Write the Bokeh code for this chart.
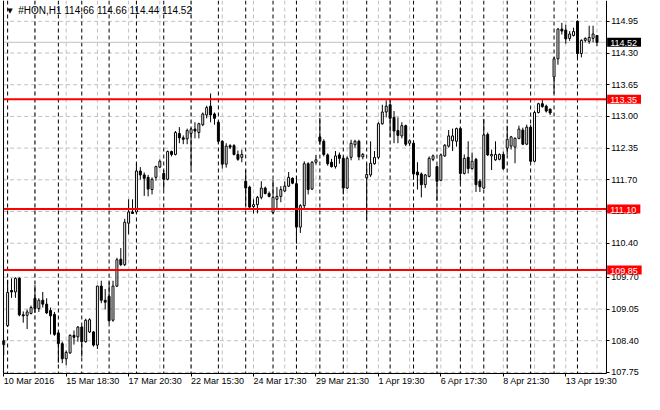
from bokeh.plotting import figure
from bokeh.models import (Range1d, FixedTicker, LinearAxis, Label,
                          PrintfTickFormatter, ColumnDataSource)
from bokeh.embed import file_html
from bokeh.resources import INLINE

# ---- data (HON, H1) ----
opens = [108.32, 108.71, 109.43, 109.40, 109.68, 108.93, 108.92, 108.96, 109.27, 109.06,
         109.23, 109.15, 109.02, 108.94, 108.56, 108.34, 108.03, 108.15, 108.51, 108.48,
         108.68, 108.38, 108.58, 108.58, 108.31, 109.52, 109.23, 109.31, 108.82, 109.52,
         110.07, 109.96, 110.81, 111.04, 111.04, 111.88, 111.80, 111.75, 111.50, 111.75,
         111.96, 111.83, 111.71, 112.28, 112.22, 112.65, 112.56, 112.54, 112.65, 112.74,
         112.67, 112.83, 113.03, 113.21, 113.05, 112.88, 112.49, 112.02, 112.40, 112.40,
         112.22, 112.16, 111.67, 111.55, 111.15, 111.19, 111.34, 111.53, 111.42, 111.03,
         111.30, 111.36, 111.47, 111.57, 111.73, 111.62, 110.73, 111.17, 112.03, 111.51,
         112.06, 112.58, 112.49, 112.21, 112.06, 111.97, 112.21, 112.14, 111.53, 112.16,
         112.42, 112.49, 112.17, 111.74, 111.80, 112.03, 112.16, 112.85, 113.09, 113.24,
         112.98, 112.71, 112.60, 112.81, 112.45, 112.45, 111.86, 111.82, 111.60, 111.77,
         112.12, 111.97, 111.69, 112.19, 112.39, 112.50, 112.49, 112.75, 111.83, 112.16,
         111.93, 112.12, 111.67, 111.53, 112.63, 112.19, 112.11, 112.12, 112.22, 112.35,
         112.39, 112.37, 112.55, 112.72, 112.43, 112.78, 112.08, 113.08, 113.26, 113.21,
         113.15, 113.81, 114.18, 114.79, 114.77, 114.60, 114.66, 114.95, 114.29, 114.56,
         114.54, 114.60, 114.66]
highs = [108.42, 109.65, 109.68, 109.70, 109.70, 109.00, 109.04, 109.12, 109.54, 109.27,
         109.40, 109.27, 109.08, 108.99, 108.58, 108.38, 108.20, 108.53, 108.61, 108.70,
         108.70, 108.85, 108.86, 108.60, 109.53, 109.63, 109.46, 109.61, 109.63, 110.10,
         110.30, 110.90, 111.30, 111.30, 112.03, 111.96, 111.85, 111.80, 111.75, 111.99,
         112.12, 111.90, 112.30, 112.30, 112.70, 112.78, 112.61, 112.75, 112.76, 112.88,
         112.87, 113.08, 113.22, 113.47, 113.08, 112.91, 112.51, 112.45, 112.43, 112.43,
         112.30, 112.32, 111.90, 111.58, 111.30, 111.37, 111.67, 111.56, 111.46, 111.70,
         111.55, 111.57, 111.67, 111.86, 111.75, 111.77, 111.20, 112.08, 112.06, 112.08,
         112.21, 112.97, 112.53, 112.24, 112.13, 112.29, 112.26, 112.18, 112.18, 112.52,
         112.52, 112.52, 112.25, 112.03, 112.49, 112.29, 112.88, 113.24, 113.33, 113.34,
         113.11, 112.98, 112.88, 112.83, 112.53, 112.51, 112.06, 111.85, 111.82, 112.18,
         112.22, 111.99, 112.24, 112.43, 112.72, 112.75, 112.77, 112.77, 112.22, 112.49,
         112.26, 112.15, 111.71, 112.95, 112.67, 112.32, 112.49, 112.24, 112.28, 112.81,
         112.60, 112.57, 112.81, 112.77, 112.83, 112.83, 113.12, 113.28, 113.34, 113.24,
         113.16, 114.22, 114.81, 114.92, 114.88, 114.75, 114.82, 114.97, 114.58, 114.62,
         114.86, 114.86, 114.66]
lows = [108.10, 108.68, 109.28, 109.28, 108.90, 108.77, 108.64, 108.94, 108.97, 108.99,
        109.08, 108.95, 108.53, 108.50, 107.95, 107.94, 107.90, 108.13, 108.32, 108.38,
        108.07, 108.36, 108.56, 108.28, 108.23, 109.17, 109.04, 108.77, 108.79, 109.50,
        109.93, 109.93, 110.58, 111.00, 111.01, 111.70, 111.37, 111.36, 111.40, 111.68,
        111.94, 111.50, 111.69, 112.18, 112.20, 112.45, 112.43, 112.43, 111.93, 112.55,
        112.55, 112.80, 112.96, 112.88, 112.83, 112.45, 111.93, 111.95, 112.33, 112.20,
        112.09, 112.06, 111.17, 111.11, 111.01, 111.01, 111.30, 111.40, 111.34, 111.00,
        111.09, 111.24, 111.45, 111.55, 111.61, 110.39, 110.61, 111.12, 111.40, 111.49,
        112.01, 112.42, 112.18, 111.99, 111.95, 111.93, 112.03, 111.40, 111.51, 112.10,
        112.36, 112.10, 112.12, 110.88, 111.76, 112.01, 112.12, 112.83, 112.98, 112.58,
        112.45, 112.45, 112.55, 112.39, 112.39, 111.70, 111.50, 111.34, 111.53, 111.75,
        112.08, 111.27, 111.67, 112.17, 112.36, 112.29, 112.38, 111.63, 111.81, 111.83,
        111.91, 111.45, 111.45, 111.51, 112.19, 111.90, 112.09, 112.10, 111.90, 112.22,
        112.32, 112.04, 112.53, 112.41, 112.41, 112.06, 112.06, 113.06, 113.18, 113.08,
        113.03, 113.47, 114.06, 114.68, 114.49, 114.55, 114.64, 114.21, 114.21, 114.52,
        114.49, 114.52, 114.44]
closes = [108.40, 109.39, 109.40, 109.68, 108.93, 108.91, 108.99, 109.08, 109.06, 109.23,
          109.15, 108.97, 108.91, 108.53, 108.34, 108.03, 108.16, 108.51, 108.47, 108.68,
          108.38, 108.82, 108.83, 108.31, 109.52, 109.23, 109.19, 108.81, 109.52, 110.06,
          109.96, 110.83, 111.04, 111.01, 111.88, 111.80, 111.73, 111.51, 111.71, 111.97,
          112.08, 111.71, 112.28, 112.22, 112.67, 112.56, 112.53, 112.71, 112.74, 112.70,
          112.85, 113.05, 113.18, 113.03, 112.96, 112.49, 112.02, 112.39, 112.37, 112.22,
          112.12, 112.22, 111.53, 111.14, 111.19, 111.34, 111.53, 111.42, 111.36, 111.34,
          111.36, 111.50, 111.57, 111.75, 111.63, 110.73, 111.17, 112.03, 111.50, 112.06,
          112.11, 112.49, 112.22, 112.03, 111.97, 112.19, 112.14, 111.53, 112.14, 112.45,
          112.49, 112.17, 112.22, 111.81, 112.04, 112.16, 112.85, 113.09, 113.21, 112.96,
          112.70, 112.61, 112.81, 112.43, 112.50, 111.82, 111.80, 111.60, 111.80, 112.14,
          112.19, 111.67, 112.21, 112.41, 112.60, 112.60, 112.75, 111.83, 112.14, 111.93,
          112.08, 111.60, 111.56, 112.62, 112.21, 112.22, 112.22, 112.22, 111.93, 112.53,
          112.58, 112.55, 112.74, 112.43, 112.78, 112.08, 113.08, 113.26, 113.20, 113.11,
          113.07, 114.18, 114.79, 114.75, 114.59, 114.69, 114.74, 114.29, 114.56, 114.60,
          114.62, 114.69, 114.52]
bar_index = list(range(len(opens)))

day_start_bars = [1, 8, 14, 20, 27, 34, 41, 48, 55, 62, 69, 75, 81, 87, 93, 99,
                  105, 111, 117, 123, 129, 135, 141, 147]
grid_bars = list(range(0, 153, 8))
date_tick_bars = [0, 16, 32, 48, 64, 80, 96, 112, 128, 144]
date_tick_labels = ["10 Mar 2016", "15 Mar 18:30", "17 Mar 20:30", "22 Mar 15:30",
                    "24 Mar 17:30", "29 Mar 21:30", "1 Apr 19:30", "6 Apr 17:30",
                    "8 Apr 21:30", "13 Apr 19:30"]
price_ticks = [107.75, 108.40, 109.05, 109.70, 110.40, 111.05, 111.70, 112.35,
               113.00, 113.65, 114.30, 114.95]
level_lines = [113.35, 111.10, 109.85]
last_price = 114.52
header_text = "#HON,H1  114.66 114.66 114.44 114.52"

FONT = "Liberation Sans"
GRAY = "#c0c0c0"

# chart area (bar units / price units) inside the full-figure frame
X_LEFT, X_RIGHT = -0.15, 154.35
Y_BOTTOM, Y_TOP = 107.73, 115.377

src = ColumnDataSource(dict(
    x=bar_index, low=lows, high=highs,
    top=[max(o, c) for o, c in zip(opens, closes)],
    bottom=[min(o, c) for o, c in zip(opens, closes)],
    fill=["white" if c >= o else "black" for o, c in zip(opens, closes)],
))

p = figure(width=644, height=394, output_backend="svg", toolbar_location=None,
           x_range=Range1d(-0.825, 164.175), y_range=Range1d(107.297, Y_TOP),
           x_axis_location=None, y_axis_location=None,
           min_border=0, min_border_left=0, min_border_right=0,
           min_border_top=0, min_border_bottom=0,
           background_fill_color="white", border_fill_color="white",
           outline_line_color=None)
p.grid.visible = False

# grid lines
n_h = len(price_ticks)
p.segment(x0=[X_LEFT] * n_h, x1=[X_RIGHT] * n_h, y0=price_ticks, y1=price_ticks,
          line_color=GRAY, line_width=1, line_dash="4 3")
n_v = len(grid_bars)
p.segment(x0=grid_bars, x1=grid_bars, y0=[Y_TOP] * n_v, y1=[Y_BOTTOM] * n_v,
          line_color=GRAY, line_width=1, line_dash="4 3")
n_d = len(day_start_bars)
p.segment(x0=day_start_bars, x1=day_start_bars, y0=[Y_TOP] * n_d, y1=[Y_BOTTOM] * n_d,
          line_color="black", line_width=1, line_dash="4 3")
# bid line
p.segment(x0=[X_LEFT], x1=[X_RIGHT], y0=[last_price], y1=[last_price],
          line_color=GRAY, line_width=1)

# candles
p.segment(x0="x", y0="low", x1="x", y1="high", source=src,
          line_color="black", line_width=1)
p.vbar(x="x", width=0.5, top="top", bottom="bottom", source=src,
       fill_color="fill", line_color="black", line_width=1)

# horizontal levels
n_l = len(level_lines)
p.segment(x0=[X_LEFT] * n_l, x1=[X_RIGHT] * n_l, y0=level_lines, y1=level_lines,
          line_color="#ff0000", line_width=2)

# right price axis drawn at the chart edge
ya = LinearAxis(fixed_location=X_RIGHT, bounds=(Y_BOTTOM, Y_TOP),
                ticker=FixedTicker(ticks=price_ticks),
                formatter=PrintfTickFormatter(format="%.2f"),
                major_label_text_font=FONT, major_label_text_font_size="9px",
                major_label_text_color="black", major_tick_out=3, major_tick_in=0,
                minor_tick_line_color=None, axis_line_color="black",
                major_tick_line_color="black", major_label_standoff=2)
p.add_layout(ya, "right")

# bottom time axis (ticks only; labels left-aligned below)
xa = LinearAxis(fixed_location=Y_BOTTOM, bounds=(X_LEFT, X_RIGHT),
                ticker=FixedTicker(ticks=date_tick_bars),
                major_label_text_color=None, major_label_text_font_size="0px",
                major_tick_out=3, major_tick_in=0, minor_tick_line_color=None,
                axis_line_color="black", major_tick_line_color="black")
p.add_layout(xa, "below")

# left frame line
la = LinearAxis(fixed_location=X_LEFT, bounds=(Y_BOTTOM, Y_TOP),
                ticker=FixedTicker(ticks=[]), major_label_text_color=None,
                major_label_text_font_size="0px", major_tick_line_color=None,
                minor_tick_line_color=None, axis_line_color="black",
                major_label_standoff=0, major_tick_out=0)
p.add_layout(la, "left")

# value boxes on the price scale
box_pad = dict(left=3, right=4, top=2, bottom=1)
for lv in level_lines:
    p.add_layout(Label(x=X_RIGHT, y=lv, x_offset=1, text=f"{lv:.2f}",
                       text_font=FONT, text_font_size="9px", text_color="white",
                       text_align="left", text_baseline="middle",
                       background_fill_color="#ff0000", padding=box_pad))
p.add_layout(Label(x=X_RIGHT, y=last_price, x_offset=1, text=f"{last_price:.2f}",
                   text_font=FONT, text_font_size="9px", text_color="white",
                   text_align="left", text_baseline="middle",
                   background_fill_color="black", padding=box_pad))

# date labels
for b, lab in zip(date_tick_bars, date_tick_labels):
    p.add_layout(Label(x=b, y=Y_BOTTOM, y_offset=-3, text=lab,
                       text_font=FONT, text_font_size="9px", text_color="black",
                       text_align="left", text_baseline="top"))

# header
p.add_layout(Label(x=X_LEFT, y=Y_TOP, x_offset=4, y_offset=-6, text="\u25bc",
                   text_font="DejaVu Sans", text_font_size="7px", text_color="black",
                   text_align="left", text_baseline="top"))
p.add_layout(Label(x=X_LEFT, y=Y_TOP, x_offset=15, y_offset=-4, text=header_text,
                   text_font=FONT, text_font_size="10px", text_color="black",
                   text_align="left", text_baseline="top"))

open("out.html", "w").write(file_html(p, INLINE))
